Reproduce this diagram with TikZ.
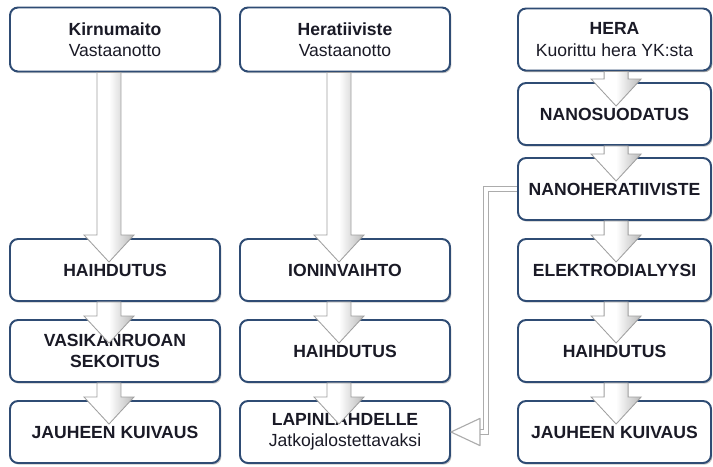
\documentclass[tikz,border=0pt]{standalone}
\usepackage{fontspec}
\setsansfont{Liberation Sans}
\usetikzlibrary{calc,shadows,positioning}

\definecolor{boxblue}{HTML}{2F4C74}
\definecolor{txt}{HTML}{1A1A26}

\begin{document}
\begin{tikzpicture}[node distance=2.025cm,
  main box/.style={rectangle,rounded corners=0.2cm,draw=boxblue,line width=1.4pt,fill=white,
    minimum width=5.25cm,minimum height=1.55cm,inner sep=2pt,align=center,text=txt,
    font=\sffamily\bfseries\fontsize{12.5}{15}\selectfont,
    drop shadow={shadow xshift=1pt,shadow yshift=-1.2pt,opacity=0.45}},
  top box/.style={main box,minimum height=1.6cm},
  narrow box/.style={main box,minimum width=4.825cm},
  flow/.style={draw=gray!75,line width=0.6pt,left color=white,right color=gray!55,middle color=white,
    to path={let \p1=($(\tikztostart)+(#1,0)$), \p2=(\tikztotarget) in
      (\x1-0.3cm,\y1) -- (\x1-0.3cm,\y2+0.075cm) -- (\x1-0.625cm,\y2+0.075cm)
      -- (\x1,\y2-0.6cm) -- (\x1+0.625cm,\y2+0.075cm) -- (\x1+0.3cm,\y2+0.075cm)
      -- (\x1+0.3cm,\y1) -- cycle}},
  flow/.default=-0.15,
  back line/.style={draw=gray!65,line width=0.8pt,double=white,double distance=0.09cm},
  back head/.style={draw=gray!65,line width=0.8pt,fill=white,line join=round}]

  \useasboundingbox (-2.875,0.9875) rectangle (14.95,-10.6625);

  % kirnumaito
  \node[top box] (kirnu) {Kirnumaito\\{\mdseries Vastaanotto}};
  \node[main box] (haih1) [below of=kirnu, node distance=5.7625cm] {HAIHDUTUS};
  \node[main box] (vasik) [below of=haih1] {VASIKANRUOAN\\SEKOITUS};
  \node[main box] (jauhe1) [below of=vasik] {JAUHEEN KUIVAUS};

  % heratiiviste
  \node[top box] (herat) [right of=kirnu, node distance=5.75cm] {Heratiiviste\\{\mdseries Vastaanotto}};
  \node[main box] (ionin) [below of=herat, node distance=5.7625cm] {IONINVAIHTO};
  \node[main box] (haih2) [below of=ionin] {HAIHDUTUS};
  \node[main box] (lapin) [below of=haih2] {LAPINLAHDELLE\\{\mdseries Jatkojalostettavaksi}};

  % hera
  \node[top box, narrow box] (hera) [right of=herat, node distance=6.7375cm] {HERA\\{\mdseries Kuorittu hera YK:sta}};
  \node[narrow box] (nanos) [below of=hera, node distance=1.8625cm] {NANOSUODATUS};
  \node[narrow box] (nanoh) [below of=nanos, node distance=1.875cm] {NANOHERATIIVISTE};
  \node[narrow box] (elekt) [below of=nanoh] {ELEKTRODIALYYSI};
  \node[narrow box] (haih3) [below of=elekt] {HAIHDUTUS};
  \node[narrow box] (jauhe3) [below of=haih3] {JAUHEEN KUIVAUS};

  \path
    (kirnu.south) edge[flow] (haih1.north)
    (haih1.south) edge[flow] (vasik.north)
    (vasik.south) edge[flow] (jauhe1.north)
    (herat.south) edge[flow] (ionin.north)
    (ionin.south) edge[flow] (haih2.north)
    (haih2.south) edge[flow] (lapin.north)
    (hera.south) edge[flow=0.04] (nanos.north)
    (nanos.south) edge[flow=0.04] (nanoh.north)
    (nanoh.south) edge[flow=0.04] (elekt.north)
    (elekt.south) edge[flow=0.04] (haih3.north)
    (haih3.south) edge[flow=0.04] (jauhe3.north);

  % paluu lapinlahdelle
  \coordinate (bend) at ([xshift=-0.775cm]nanoh.west);
  \coordinate (back) at ([xshift=0.725cm]lapin.east);
  \draw[back line] (nanoh.west) -- (bend) |- (back);
  \draw[back head] (lapin.east) -- ([yshift=0.34cm]back) -- ([yshift=-0.34cm]back) -- cycle;
\end{tikzpicture}
\end{document}
